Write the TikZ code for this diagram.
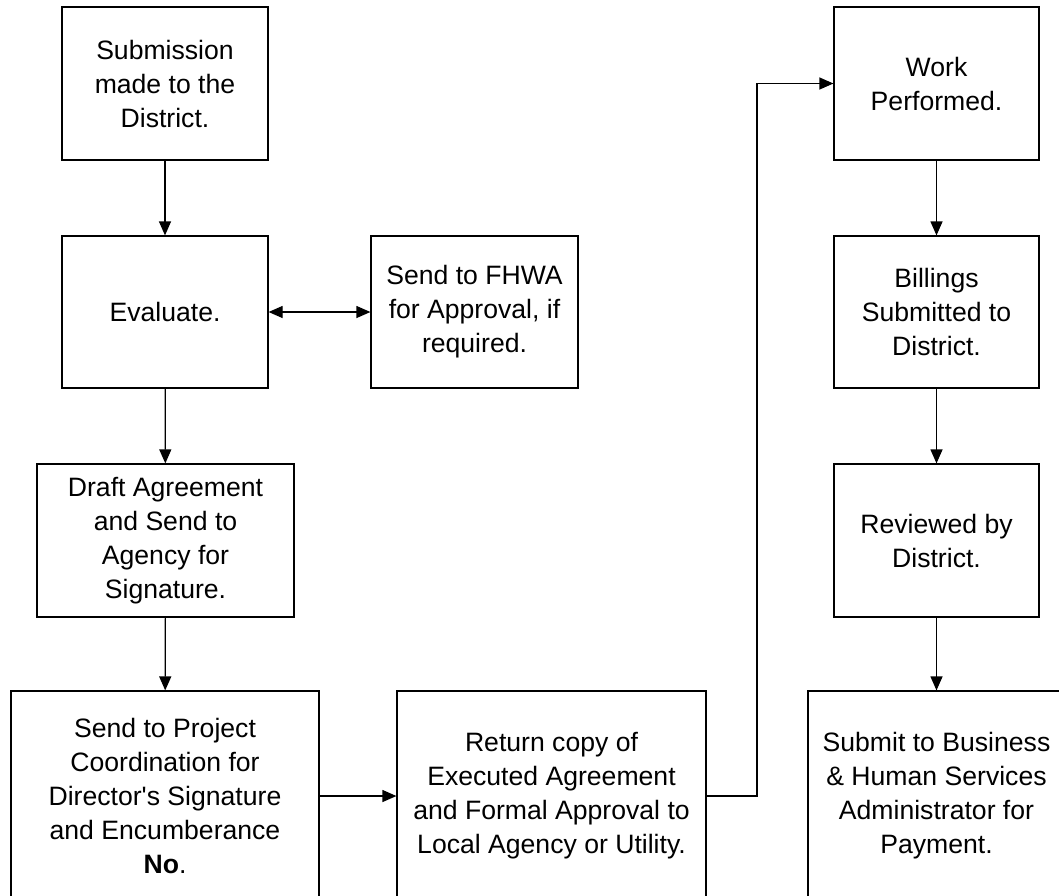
\documentclass[tikz,border=0pt]{standalone}
\usepackage{fontspec}
\setmainfont{Liberation Sans}
\usetikzlibrary{arrows.meta,positioning}

\begin{document}
\begin{tikzpicture}[x=0.5pt,y=-0.5pt]

\tikzset{block/.style={draw, line width=0.6pt, align=center, inner sep=0pt,
                       font=\fontsize{13.3}{17}\selectfont},
         flow/.style={line width=0.6pt, -{Triangle[length=7pt,width=6pt]}}}

\useasboundingbox (0,0) rectangle (1059,895);

% left column
\node[block, minimum width=103pt, minimum height=76.5pt] (submit) at (165,83.5)
    {Submission\\made to the\\District.};
\node[block, minimum width=103pt, minimum height=76pt] (evaluate) at (165,312)
    {Evaluate.};
\node[block, minimum width=103.5pt, minimum height=76pt] (fhwa) at (474.5,312)
    {Send to FHWA\\for Approval, if\\required.};
\node[block, minimum width=128.5pt, minimum height=76.5pt] (draft) at (165.5,540.5)
    {Draft Agreement\\and Send to\\Agency for\\Signature.};
\node[block, minimum width=154pt, minimum height=105pt] (coord) at (165,796)
    {Send to Project\\Coordination for\\Director\textquotesingle s Signature\\and Encumberance\\\textbf{No}.};

% middle
\node[block, minimum width=154.5pt, minimum height=105pt] (ret) at (551.5,796)
    {Return copy of\\Executed Agreement\\and Formal Approval to\\Local Agency or Utility.};

% right column
\node[block, minimum width=102.5pt, minimum height=76.5pt] (work) at (936.5,83.5)
    {Work\\Performed.};
\node[block, minimum width=102.5pt, minimum height=76pt] (bill) at (936.5,312)
    {Billings\\Submitted to\\District.};
\node[block, minimum width=102.5pt, minimum height=76.5pt] (review) at (936.5,540.5)
    {Reviewed by\\District.};
\node[block, minimum width=128.5pt, minimum height=105pt] (pay) at (936.5,796)
    {Submit to Business\\\& Human Services\\Administrator for\\Payment.};

\coordinate (bend) at (757,83.5);

\draw[flow] (submit) -- (evaluate);
\draw[flow, {Triangle[length=7pt,width=6pt]}-{Triangle[length=7pt,width=6pt]}] (evaluate) -- (fhwa);
\draw[flow] (evaluate) -- (draft);
\draw[flow] (draft) -- (coord);
\draw[flow] (coord) -- (ret);
\draw[flow] (ret.east) -| (bend) -- (work.west);
\draw[flow] (work) -- (bill);
\draw[flow] (bill) -- (review);
\draw[flow] (review) -- (pay);

\end{tikzpicture}
\end{document}
